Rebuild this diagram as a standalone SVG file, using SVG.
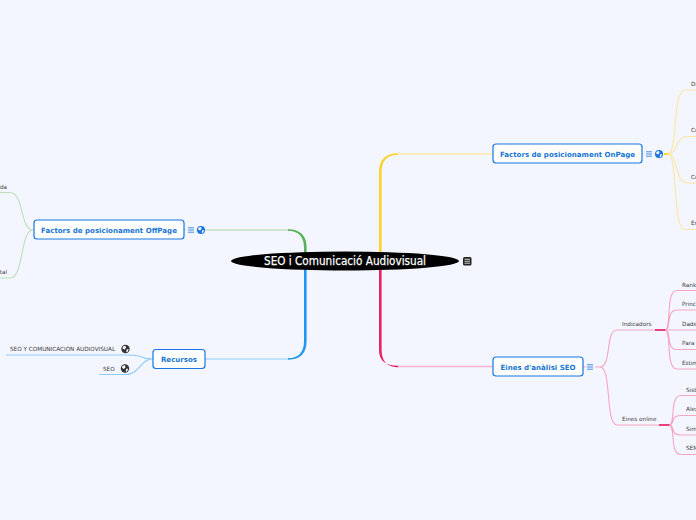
<svg xmlns="http://www.w3.org/2000/svg" width="696" height="520" viewBox="0 0 696 520">
<style>
.n{fill:#fff;stroke:#1976e0;stroke-width:1.2}
.nt{font:bold 7.05px "DejaVu Sans",sans-serif;fill:#1976d2;text-anchor:middle}
.t{font:5.7px "DejaVu Sans",sans-serif;fill:#3c3c3c}
.y{fill:none;stroke:#fbe6a4;stroke-width:1.100}
.p{fill:none;stroke:#f6a5c3;stroke-width:1.100}
.g{fill:none;stroke:#bcdfb8;stroke-width:1.100}
.b{fill:none;stroke:#90caf9;stroke-width:1.100}
.m{stroke:#1976e0;stroke-width:.8}
.gb{fill:#1976e0}
.gd{fill:#333}
.gl{fill:#fff}
</style>
<defs>
<g id="menu"><path class="m" d="M-3-2.200H3M-3 0H3M-3 2.200H3"/></g>
<g id="globe"><circle r="4" class="gb"/><path class="gl" d="M-2.500-2.200 0-3 .5-1.200-1 .5-2.800-.5ZM1 .5 3 0 2 2.800.8 3Z"/></g>
<g id="globed"><circle r="4.200" class="gd"/><path class="gl" d="M-2.600-2.400 0-3.200 .5-1.200-1 .5-2.900-.5ZM1 .5 3.200 0 2 2.900.8 3.200Z"/></g>
</defs>
<rect width="696" height="520" fill="#f3f6ff"/>
<g id="connectors">
<path fill="none" stroke="#fce9a8" stroke-width="1.500" d="M396 154H493"/>
<path fill="#fdd22e" d="M379 254V172Q379 153.600 398 153.300V154.700Q381.600 155 381.600 172V254Z"/>
<path fill="none" stroke="#f8b4cd" stroke-width="1.500" d="M396 366.500H493"/>
<path fill="#ec1f65" d="M379 268V350Q379 365.800 398 365.800V367.200Q381.600 367 381.600 350V268Z"/>
<path fill="none" stroke="#c3e2c0" stroke-width="1.500" d="M205 230H290"/>
<path fill="#55b154" d="M304 253V248Q304 231 288 230.700V229.300Q306.600 229.500 306.600 248V253Z"/>
<path fill="none" stroke="#90caf9" stroke-width="1.200" d="M205 359H290"/>
<path fill="#2196f3" d="M304 269V341Q304 358 288 358.300V359.700Q306.600 359.500 306.600 341V269Z"/>
<path class="y" d="M642 154H645M654 154H656"/>
<path fill="#fdd835" d="M664 153H669V155H664Z"/>
<path class="y" d="M668 154C678 154 672 90 685 90H696M668 154C678 154 675 136.500 687 136.500H696M668 154C678 154 675 183 687 183H696M668 154C678 154 672 229.500 685 229.500H696"/>
<path class="p" d="M583 367H586M595 367H600"/>
<path class="p" d="M600 367C612 367 605 330 617 330H655M600 367C612 367 605 425 617 425H659"/>
<path fill="#e8407c" d="M655 329H667V331H655ZM659 424H671V426H659Z"/>
<path class="p" d="M665 330C672 330 665 290.500 677 290.500H696M665 330C672 330 665 310 677 310H696M665 330H696M665 330C672 330 665 349.500 677 349.500H696M665 330C672 330 665 369 677 369H696"/>
<path class="p" d="M669 425C676 425 669 395.500 681 395.500H696M669 425C676 425 669 415.500 681 415.500H696M669 425C676 425 669 435 681 435H696M669 425C676 425 669 454.500 681 454.500H696"/>
<path class="g" d="M184 230H186M196 230H198"/>
<path class="g" d="M33 230C20 230 24 192.500 10 192.500H0M33 230C20 230 24 278 10 278H0"/>
<path class="b" d="M153 359C140 359 145 355 128 355H6M153 359C140 359 140 374.500 125 374.500H99"/>
</g>
<g id="central"><ellipse cx="345" cy="261" rx="114" ry="9.500" fill="#000"/><text x="345" y="265" font-family="'DejaVu Sans',sans-serif" font-size="11.500" fill="#fff" stroke="#fff" stroke-width=".25" text-anchor="middle" textLength="162" lengthAdjust="spacingAndGlyphs">SEO i Comunicació Audiovisual</text><rect x="463" y="257" width="8.500" height="8.500" rx="1.500" fill="#222"/><path d="M464.500 259.200H470M464.500 261.200H470M464.500 263.200H470" stroke="#fff" stroke-width=".8"/></g>
<g id="onpage"><rect class="n" x="493" y="144" width="149" height="19" rx="3"/><text class="nt" x="567.500" y="156.500">Factors de posicionament OnPage</text><use href="#menu" x="649" y="154"/><use href="#globe" x="659" y="154"/></g>
<g id="offpage"><rect class="n" x="34" y="220" width="150" height="19" rx="3"/><text class="nt" x="109" y="232.500">Factors de posicionament OffPage</text><use href="#menu" x="191" y="230"/><use href="#globe" x="201" y="230"/></g>
<g id="eines"><rect class="n" x="493" y="357" width="90" height="19" rx="3"/><text class="nt" x="538" y="369.500">Eines d'anàlisi SEO</text><use href="#menu" x="590" y="367"/></g>
<g id="recursos"><rect class="n" x="153" y="349.500" width="52" height="19" rx="3"/><text class="nt" x="179" y="362">Recursos</text></g>
<g id="rec1"><text class="t" x="10" y="351">SEO Y COMUNICACIÓN AUDIOVISUAL</text><use href="#globed" x="125.500" y="349"/></g>
<g id="rec2"><text class="t" x="103" y="371">SEO</text><use href="#globed" x="125" y="368.500"/></g>
<g id="off1"><text class="t" x="7" y="189" text-anchor="end">da</text></g>
<g id="off2"><text class="t" x="7" y="274" text-anchor="end">tal</text></g>
<g id="on1"><text class="t" x="691" y="86">De</text></g>
<g id="on2"><text class="t" x="691" y="132">Co</text></g>
<g id="on3"><text class="t" x="691" y="179">Co</text></g>
<g id="on4"><text class="t" x="691" y="225">En</text></g>
<g id="ind"><text class="t" x="622" y="326">Indicadors</text></g>
<g id="onl"><text class="t" x="622" y="421">Eines online</text></g>
<g id="i1"><text class="t" x="682" y="287">Rank</text></g>
<g id="i2"><text class="t" x="682" y="306">Princ</text></g>
<g id="i3"><text class="t" x="682" y="326">Dade</text></g>
<g id="i4"><text class="t" x="682" y="345">Para</text></g>
<g id="i5"><text class="t" x="682" y="365">Estim</text></g>
<g id="o1"><text class="t" x="686" y="392">Sist</text></g>
<g id="o2"><text class="t" x="686" y="411">Alex</text></g>
<g id="o3"><text class="t" x="686" y="431">Simi</text></g>
<g id="o4"><text class="t" x="686" y="450">SEM</text></g>
</svg>
